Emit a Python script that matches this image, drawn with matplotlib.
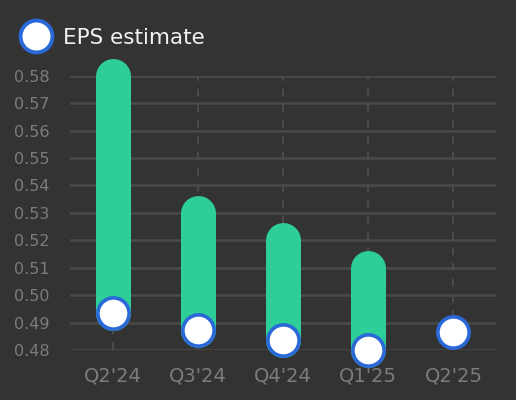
import matplotlib
matplotlib.use("Agg")
import matplotlib.pyplot as plt
from matplotlib.lines import Line2D

# quarters and EPS values
quarters = ["Q2'24", "Q3'24", "Q4'24", "Q1'25", "Q2'25"]
eps_estimate = [0.4935, 0.4873, 0.4836, 0.4800, 0.4867]
eps_high = [0.580, 0.530, 0.520, 0.510, None]
yticks = [0.48, 0.49, 0.50, 0.51, 0.52, 0.53, 0.54, 0.55, 0.56, 0.57, 0.58]

BG = "#333333"
GRID = "#4a4a4a"
GREEN = "#2dce97"
BLUE = "#2a69d7"
TICK = "#7c7c7c"

fig = plt.figure(figsize=(5.16, 4.0), dpi=100, facecolor=BG)
ax = fig.add_axes([0.1357, 0.125, 0.8256, 0.6857], facecolor=BG)

x = list(range(len(quarters)))

# vertical dashed guides
for xi in x:
    ax.axvline(xi, color=GRID, lw=1.5, ls=(0, (3.8, 3.8)), zorder=1)

# range bars with round ends
for xi, lo, hi in zip(x, eps_estimate, eps_high):
    if hi is None:
        continue
    ax.plot([xi, xi], [lo, hi], color=GREEN, lw=25.2,
            solid_capstyle="round", zorder=3, clip_on=False)

ax.plot(x, eps_estimate, ls="none", marker="o", ms=22.5, mfc="white",
        mec=BLUE, mew=2.6, zorder=4, clip_on=False)

ax.set_xlim(-0.5, 4.5)
ax.set_ylim(0.48, 0.58)
ax.set_yticks(yticks)
ax.set_yticklabels(["%.2f" % v for v in yticks])
ax.set_xticks(x)
ax.set_xticklabels(quarters)
ax.yaxis.grid(True, color=GRID, lw=1.8, zorder=0)
ax.set_axisbelow(True)
ax.tick_params(axis="y", length=0, pad=15, labelsize=11.5, labelcolor=TICK)
ax.tick_params(axis="x", length=0, pad=12, labelsize=14, labelcolor=TICK)
for s in ax.spines.values():
    s.set_visible(False)

handle = Line2D([], [], ls="none", marker="o", ms=23, mfc="white",
                mec=BLUE, mew=2.8)
fig.legend([handle], ["EPS estimate"], loc="center left",
           bbox_to_anchor=(0.0274, 1 - 38 / 400), frameon=False,
           fontsize=15.5, labelcolor="#f2f2f2", handletextpad=0.68,
           handlelength=1.2, borderaxespad=0)

fig.savefig("out.png", dpi=100, facecolor=BG)
